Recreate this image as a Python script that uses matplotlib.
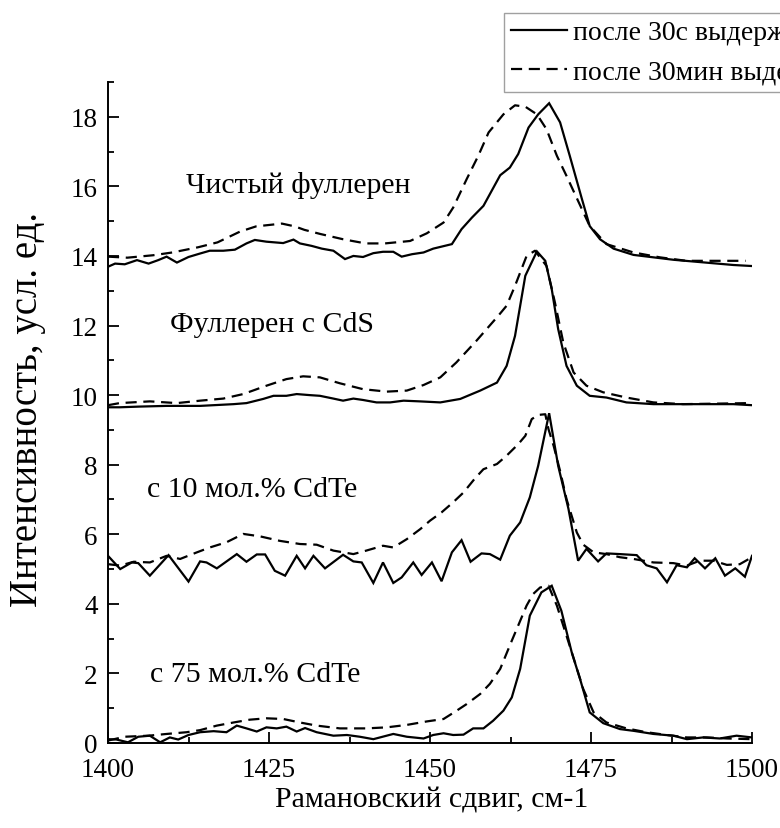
import matplotlib
matplotlib.use('Agg')
import matplotlib.pyplot as plt
from matplotlib.ticker import MultipleLocator

plt.rcParams['font.family'] = ['Liberation Serif', 'DejaVu Serif']

# --- data (Raman shift, cm-1 / intensity, a.u.) ---
pure_x_s = [1400.0, 1401.1, 1402.6, 1404.5, 1406.3, 1407.8, 1409.1, 1410.7, 1412.5, 1414.3,
            1415.8, 1417.9, 1419.7, 1421.5, 1422.8, 1424.6, 1427.2, 1428.8, 1429.8, 1431.6,
            1433.2, 1435.0, 1436.8, 1438.1, 1439.6, 1441.2, 1442.7, 1444.3, 1445.6, 1447.2,
            1449.0, 1450.5, 1453.4, 1454.9, 1456.5, 1458.3, 1460.9, 1462.4, 1463.7, 1465.3,
            1466.8, 1468.5, 1470.2, 1471.7, 1473.6, 1474.8, 1476.4, 1478.5, 1481.6, 1484.7,
            1487.8, 1490.9, 1494.0, 1497.1, 1500.0]
pure_y_s = [13.69, 13.78, 13.76, 13.88, 13.78, 13.88, 13.98, 13.81, 13.97, 14.07,
            14.15, 14.15, 14.18, 14.36, 14.46, 14.41, 14.37, 14.47, 14.36, 14.29,
            14.21, 14.15, 13.91, 14.00, 13.97, 14.08, 14.12, 14.12, 13.98, 14.05,
            14.10, 14.21, 14.34, 14.77, 15.10, 15.44, 16.32, 16.54, 16.93, 17.69,
            18.07, 18.39, 17.84, 16.88, 15.63, 14.86, 14.48, 14.21, 14.03, 13.96,
            13.89, 13.84, 13.79, 13.74, 13.71]
pure_x_d = [1400.0, 1403.0, 1407.0, 1410.0, 1414.0, 1417.0, 1420.5, 1423.0, 1427.0, 1429.0,
            1430.5, 1433.0, 1436.5, 1440.0, 1443.0, 1446.9, 1449.5, 1452.1, 1453.6, 1455.7,
            1457.5, 1459.1, 1461.4, 1463.2, 1464.8, 1466.6, 1468.1, 1469.7, 1471.2, 1473.6,
            1474.8, 1477.4, 1481.6, 1485.7, 1489.8, 1494.0, 1499.0]
pure_y_d = [13.98, 13.95, 14.02, 14.10, 14.25, 14.39, 14.70, 14.85, 14.93, 14.85,
            14.75, 14.63, 14.48, 14.36, 14.36, 14.43, 14.65, 14.96, 15.39, 16.21,
            16.88, 17.55, 18.07, 18.33, 18.29, 18.07, 17.64, 16.88, 16.30, 15.34,
            14.86, 14.34, 14.10, 13.96, 13.86, 13.86, 13.86]

cds_x_s = [1400.0, 1401.8, 1404.9, 1409.1, 1414.3, 1419.5, 1421.5, 1424.1, 1425.7, 1427.7,
           1429.3, 1431.3, 1432.9, 1435.0, 1436.5, 1438.1, 1439.6, 1441.7, 1443.8, 1445.9,
           1448.4, 1451.6, 1454.7, 1457.8, 1460.4, 1461.9, 1463.2, 1464.8, 1466.6, 1467.9,
           1468.9, 1469.9, 1471.2, 1472.8, 1474.8, 1477.4, 1480.5, 1484.7, 1489.3, 1497.1,
           1500.0]
cds_y_s = [9.65, 9.65, 9.67, 9.69, 9.69, 9.74, 9.77, 9.89, 9.98, 9.98,
           10.03, 10.00, 9.98, 9.90, 9.84, 9.90, 9.86, 9.79, 9.79, 9.84,
           9.82, 9.79, 9.89, 10.13, 10.36, 10.84, 11.70, 13.43, 14.13, 13.86,
           13.05, 11.90, 10.84, 10.27, 9.98, 9.93, 9.79, 9.74, 9.74, 9.74,
           9.71]
cds_x_d = [1400.0, 1401.8, 1406.5, 1410.7, 1414.3, 1417.9, 1421.0, 1424.6, 1427.7, 1430.3,
           1432.9, 1436.0, 1439.6, 1443.3, 1446.4, 1449.0, 1451.6, 1454.1, 1457.2, 1460.6,
           1461.9, 1463.2, 1465.0, 1466.3, 1468.1, 1469.4, 1470.7, 1472.3, 1474.3, 1476.9,
           1480.5, 1484.7, 1489.3, 1499.7]
cds_y_d = [9.71, 9.77, 9.82, 9.77, 9.84, 9.90, 10.03, 10.27, 10.46, 10.54,
           10.51, 10.34, 10.17, 10.10, 10.13, 10.29, 10.51, 10.94, 11.56, 12.28,
           12.57, 13.14, 14.00, 14.15, 13.71, 12.66, 11.51, 10.65, 10.27, 10.08,
           9.93, 9.79, 9.74, 9.77]

te10_x_s = [1400.0, 1401.9, 1403.7, 1404.7, 1406.5, 1409.4, 1412.5, 1414.3, 1415.3, 1416.9,
            1420.0, 1421.5, 1423.1, 1424.4, 1425.9, 1427.5, 1429.3, 1430.6, 1431.9, 1433.7,
            1436.5, 1438.1, 1439.4, 1441.2, 1442.7, 1444.3, 1445.6, 1447.4, 1448.7, 1450.3,
            1451.8, 1453.4, 1454.9, 1456.3, 1458.0, 1459.3, 1460.9, 1462.4, 1464.0, 1465.5,
            1466.8, 1468.5, 1469.9, 1471.5, 1473.0, 1474.3, 1476.1, 1477.4, 1479.5, 1482.1,
            1483.6, 1485.2, 1486.8, 1488.3, 1489.9, 1491.1, 1492.7, 1494.3, 1495.8, 1497.4,
            1498.9, 1500.0]
te10_y_s = [5.38, 5.00, 5.19, 5.17, 4.81, 5.40, 4.64, 5.22, 5.19, 5.02,
            5.43, 5.21, 5.42, 5.42, 4.95, 4.81, 5.38, 5.02, 5.38, 5.02,
            5.41, 5.22, 5.19, 4.60, 5.19, 4.60, 4.76, 5.19, 4.83, 5.19,
            4.65, 5.48, 5.83, 5.21, 5.45, 5.43, 5.27, 5.96, 6.34, 7.06,
            7.97, 9.48, 7.97, 6.73, 5.24, 5.58, 5.22, 5.45, 5.43, 5.40,
            5.11, 5.02, 4.62, 5.11, 5.05, 5.31, 5.02, 5.31, 4.81, 5.02,
            4.78, 5.38]
te10_x_d = [1400.0, 1401.9, 1404.0, 1406.5, 1409.1, 1411.2, 1413.8, 1415.8, 1418.4, 1421.0,
            1423.6, 1426.7, 1429.8, 1432.4, 1435.0, 1438.1, 1440.1, 1442.7, 1444.3, 1446.4,
            1448.5, 1450.0, 1451.8, 1453.6, 1455.2, 1457.0, 1458.3, 1460.4, 1461.9, 1463.7,
            1464.8, 1465.8, 1466.8, 1467.9, 1468.4, 1469.2, 1470.2, 1471.2, 1472.0, 1472.8,
            1473.8, 1475.4, 1477.4, 1479.5, 1481.6, 1484.7, 1487.8, 1489.9, 1491.9, 1494.0,
            1496.1, 1498.1, 1500.0]
te10_y_d = [5.14, 5.10, 5.21, 5.19, 5.38, 5.29, 5.48, 5.62, 5.77, 6.01,
            5.94, 5.81, 5.72, 5.70, 5.53, 5.43, 5.53, 5.67, 5.62, 5.86,
            6.15, 6.39, 6.63, 6.92, 7.20, 7.61, 7.87, 8.02, 8.26, 8.59,
            8.83, 9.31, 9.43, 9.45, 9.02, 8.54, 7.82, 7.01, 6.53, 6.05,
            5.70, 5.48, 5.43, 5.34, 5.29, 5.19, 5.17, 5.10, 5.24, 5.24,
            5.12, 5.14, 5.34]

te75_x_s = [1400.0, 1401.3, 1403.1, 1404.7, 1406.5, 1408.1, 1409.6, 1410.9, 1412.5, 1414.3,
            1416.4, 1418.4, 1420.0, 1421.5, 1423.1, 1424.6, 1426.2, 1427.7, 1429.3, 1430.6,
            1432.4, 1435.0, 1437.1, 1439.1, 1441.2, 1444.3, 1446.4, 1449.0, 1450.5, 1452.1,
            1453.6, 1455.2, 1456.7, 1458.3, 1459.8, 1461.4, 1462.7, 1464.0, 1465.5, 1467.3,
            1468.9, 1470.4, 1472.0, 1473.3, 1474.8, 1476.9, 1479.5, 1481.6, 1484.7, 1487.8,
            1489.9, 1492.4, 1495.0, 1497.6, 1500.0]
te75_y_s = [0.11, 0.10, 0.02, 0.18, 0.21, 0.02, 0.16, 0.10, 0.23, 0.31,
            0.34, 0.31, 0.50, 0.42, 0.33, 0.45, 0.42, 0.47, 0.33, 0.43,
            0.31, 0.21, 0.23, 0.18, 0.11, 0.26, 0.18, 0.13, 0.23, 0.28,
            0.23, 0.24, 0.42, 0.42, 0.64, 0.93, 1.31, 2.13, 3.66, 4.33,
            4.52, 3.80, 2.61, 1.84, 0.88, 0.57, 0.40, 0.35, 0.26, 0.21,
            0.11, 0.16, 0.13, 0.21, 0.16]
te75_x_d = [1400.0, 1402.6, 1406.3, 1409.1, 1412.2, 1414.3, 1416.9, 1419.5, 1422.0, 1424.6,
            1427.2, 1429.8, 1432.4, 1436.0, 1440.1, 1443.3, 1446.4, 1449.5, 1452.1, 1453.9,
            1455.7, 1457.8, 1459.3, 1460.9, 1462.7, 1464.0, 1465.0, 1466.0, 1467.1, 1468.4,
            1469.7, 1471.2, 1472.5, 1473.8, 1475.4, 1477.4, 1480.5, 1483.6, 1486.8, 1489.9,
            1493.0, 1496.1, 1500.0]
te75_y_d = [0.07, 0.18, 0.21, 0.26, 0.31, 0.37, 0.50, 0.59, 0.67, 0.71,
            0.69, 0.59, 0.50, 0.42, 0.42, 0.45, 0.52, 0.62, 0.69, 0.90,
            1.12, 1.41, 1.70, 2.13, 2.94, 3.51, 3.95, 4.28, 4.47, 4.52,
            3.95, 3.08, 2.32, 1.55, 0.88, 0.59, 0.42, 0.31, 0.23, 0.16,
            0.16, 0.13, 0.11]

sample_labels = ['Чистый фуллерен', 'Фуллерен с CdS', 'с 10 мол.% CdTe', 'с 75 мол.% CdTe']
label_pos = [(1412.1, 16.05), (1409.6, 12.04), (1406.0, 7.30), (1406.5, 1.98)]
legend_labels = ['после 30с выдержки', 'после 30мин выдержки']

W, H = 780, 829
fig = plt.figure(figsize=(W / 100, H / 100), dpi=100)
ax = fig.add_axes([108 / W, 1 - 744 / H, 644 / W, 661 / H])

solid_kw = dict(color='black', lw=1.6, solid_joinstyle='miter')
dash_kw = dict(color='black', lw=1.6, linestyle=(0, (5, 3)))

curves = [(pure_x_s, pure_y_s, pure_x_d, pure_y_d),
          (cds_x_s, cds_y_s, cds_x_d, cds_y_d),
          (te10_x_s, te10_y_s, te10_x_d, te10_y_d),
          (te75_x_s, te75_y_s, te75_x_d, te75_y_d)]
for i, (xs, ys, xd, yd) in enumerate(curves):
    ax.plot(xd, yd, label=legend_labels[1] if i == 0 else None, **dash_kw)
    ax.plot(xs, ys, label=legend_labels[0] if i == 0 else None, **solid_kw)

for txt, (tx, ty) in zip(sample_labels, label_pos):
    ax.text(tx, ty, txt, fontsize=21.5, ha='left', va='center')

ax.set_xlim(1400, 1500)
ax.set_ylim(0, 19)
ax.xaxis.set_major_locator(MultipleLocator(25))
ax.xaxis.set_minor_locator(MultipleLocator(12.5))
ax.yaxis.set_major_locator(MultipleLocator(2))
ax.yaxis.set_minor_locator(MultipleLocator(1))
ax.tick_params(which='both', direction='in', width=1.3, labelsize=19.5)
ax.tick_params(which='major', length=8)
ax.tick_params(which='minor', length=4)
ax.tick_params(axis='x', pad=10)
ax.tick_params(axis='y', pad=7.5)
for side in ('top', 'right'):
    ax.spines[side].set_visible(False)
for side in ('left', 'bottom'):
    ax.spines[side].set_linewidth(1.4)

fig.text(432 / W, 1 - 801 / H, 'Рамановский сдвиг, см-1', fontsize=21.5, ha='center', va='center')
fig.text(28 / W, 1 - 409 / H, 'Интенсивность, усл. ед.', fontsize=28,
         ha='center', va='center', rotation=90)

handles, labels = ax.get_legend_handles_labels()
order = [1, 0]
leg = fig.legend([handles[k] for k in order], [labels[k] for k in order],
                 loc='upper left', bbox_to_anchor=(504 / W, 1 - 14 / H),
                 fontsize=20, frameon=True, fancybox=False, handlelength=2.0,
                 handletextpad=0.25, borderpad=0.25, labelspacing=0.5, borderaxespad=0)
leg.get_frame().set_edgecolor('#888888')
leg.get_frame().set_linewidth(1.0)

fig.savefig('out.png', dpi=100)
